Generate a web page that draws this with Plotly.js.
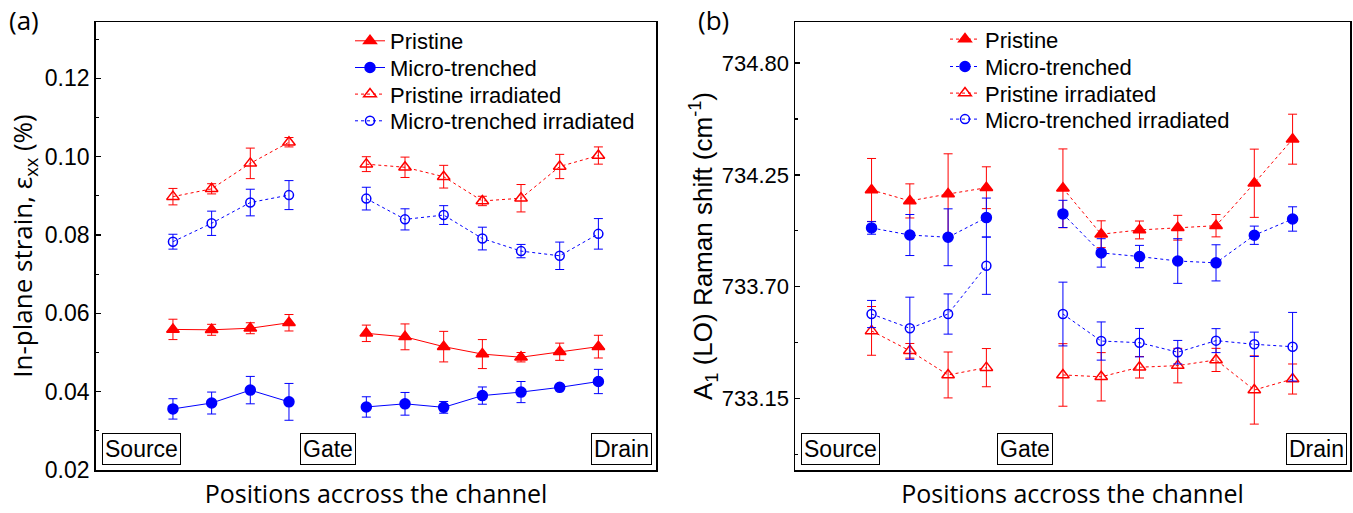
<!DOCTYPE html>
<html>
<head>
<meta charset="utf-8">
<script src="https://cdn.plot.ly/plotly-3.0.1.min.js"></script>
<style>html,body{margin:0;padding:0;background:#fff;}#chart{width:1353px;height:513px;}</style>
</head>
<body>
<div id="chart"></div>
<script>
// Positions across the channel (first 4 on the source side, the rest on the drain side of the gate)
const positions = [1, 2, 3, 4, 6, 7, 8, 9, 10, 11, 12];
const sourceSideCount = 4;

const seriesNames = ["Pristine", "Micro-trenched", "Pristine irradiated", "Micro-trenched irradiated"];

// (a) In-plane strain (%)
const strainPristine = [0.0559, 0.0558, 0.0562, 0.0576, 0.0549, 0.0540, 0.0515, 0.0496, 0.0488, 0.0502, 0.0515];
const strainPristineErr = [0.0026, 0.0014, 0.0014, 0.0021, 0.0021, 0.0033, 0.0039, 0.0037, 0.0012, 0.0022, 0.0029];
const strainTrench = [0.0356, 0.0371, 0.0404, 0.0374, 0.0361, 0.0369, 0.0360, 0.0390, 0.0399, 0.0411, 0.0426];
const strainTrenchErr = [0.0026, 0.0028, 0.0035, 0.0047, 0.0026, 0.0029, 0.0015, 0.0022, 0.0027, 0.0006, 0.0031];
const strainPristineIrr = [0.0898, 0.0918, 0.0983, 0.1037, 0.0981, 0.0973, 0.0949, 0.0887, 0.0894, 0.0975, 0.1003];
const strainPristineIrrErr = [0.0021, 0.0013, 0.0039, 0.0012, 0.0019, 0.0026, 0.0029, 0.0012, 0.0035, 0.0031, 0.0022];
const strainTrenchIrr = [0.0783, 0.0830, 0.0883, 0.0902, 0.0893, 0.0840, 0.0851, 0.0791, 0.0759, 0.0747, 0.0803];
const strainTrenchIrrErr = [0.0019, 0.0031, 0.0034, 0.0037, 0.0029, 0.0027, 0.0024, 0.0029, 0.0017, 0.0035, 0.0039];

// (b) A1(LO) Raman shift (cm-1)
const ramanPristine = [734.176, 734.122, 734.156, 734.187, 734.184, 733.958, 733.979, 733.990, 734.000, 734.209, 734.426];
const ramanPristineErr = [0.155, 0.084, 0.198, 0.103, 0.194, 0.066, 0.044, 0.061, 0.055, 0.168, 0.123];
const ramanTrench = [733.989, 733.954, 733.943, 734.040, 734.058, 733.866, 733.848, 733.826, 733.817, 733.953, 734.033];
const ramanTrenchErr = [0.031, 0.101, 0.140, 0.096, 0.067, 0.070, 0.055, 0.110, 0.089, 0.045, 0.060];
const ramanPristineIrr = [733.482, 733.384, 733.265, 733.301, 733.265, 733.256, 733.303, 733.311, 733.339, 733.191, 733.245];
const ramanPristineIrrErr = [0.120, 0.036, 0.113, 0.094, 0.154, 0.119, 0.053, 0.085, 0.057, 0.168, 0.074];
const ramanTrenchIrr = [733.565, 733.495, 733.565, 733.803, 733.565, 733.432, 733.424, 733.377, 733.434, 733.416, 733.404];
const ramanTrenchIrrErr = [0.067, 0.153, 0.099, 0.141, 0.157, 0.094, 0.070, 0.058, 0.059, 0.060, 0.169];

const regionLabels = ["Source", "Gate", "Drain"];
const panelLabels = ["(a)", "(b)"];
const xTitle = "Positions accross the channel";
const yTitleA = "In-plane strain, ε<sub>xx</sub> (%)";
const yTitleB = "A<sub>1</sub> (LO) Raman shift (cm<sup>-1</sup>)";

const RED = "#ff0000", BLUE = "#0000ff";
const W = 1353, H = 513;
const ARIAL = "Liberation Sans";

const data = [];
function addSeries(name, y, err, color, symbol, dash, xa, ya, legendId, size) {
  [[0, sourceSideCount], [sourceSideCount, positions.length]].forEach(function (r, k) {
    data.push({
      type: "scatter", mode: "lines+markers", name: name,
      x: positions.slice(r[0], r[1]), y: y.slice(r[0], r[1]),
      xaxis: xa, yaxis: ya, legend: legendId, showlegend: k === 0,
      line: {color: color, width: 1, dash: dash},
      marker: {color: color, symbol: symbol, size: size, line: {color: color, width: 1.5}},
      error_y: {type: "data", array: err.slice(r[0], r[1]), visible: true, color: color, thickness: 1, width: 4.5}
    });
  });
}

addSeries(seriesNames[0], strainPristine, strainPristineErr, RED, "triangle-up", "solid", "x", "y", "legend", 11);
addSeries(seriesNames[1], strainTrench, strainTrenchErr, BLUE, "circle", "solid", "x", "y", "legend2", 10);
addSeries(seriesNames[2], strainPristineIrr, strainPristineIrrErr, RED, "triangle-up-open", "dot", "x", "y", "legend3", 11);
addSeries(seriesNames[3], strainTrenchIrr, strainTrenchIrrErr, BLUE, "circle-open", "dot", "x", "y", "legend4", 9);
addSeries(seriesNames[0], ramanPristine, ramanPristineErr, RED, "triangle-up", "dot", "x2", "y2", "legend5", 11);
addSeries(seriesNames[1], ramanTrench, ramanTrenchErr, BLUE, "circle", "dot", "x2", "y2", "legend6", 10);
addSeries(seriesNames[2], ramanPristineIrr, ramanPristineIrrErr, RED, "triangle-up-open", "dot", "x2", "y2", "legend7", 11);
addSeries(seriesNames[3], ramanTrenchIrr, ramanTrenchIrrErr, BLUE, "circle-open", "dot", "x2", "y2", "legend8", 9);

const yDom = [1 - 470 / H, 1 - 22 / H];
const titleFont = {family: "Open Sans", size: 25, color: "#000"};

function xAxis(dom) {
  return {domain: dom, range: [-1, 13.5], showticklabels: false, ticks: "", showgrid: false, zeroline: false,
    showline: true, mirror: true, linecolor: "#000", linewidth: 1.5, automargin: false, fixedrange: true,
    title: {text: xTitle, font: titleFont, standoff: 15}};
}
function yAxis(range, tick0, dtick, minorDtick, fontSize, title, tFont, standoff, anchor) {
  return {domain: yDom, range: range, tick0: tick0, dtick: dtick, tickformat: ".2f",
    ticks: "inside", ticklen: 5, tickwidth: 1.5, tickcolor: "#000",
    minor: {dtick: minorDtick, ticks: "inside", ticklen: 3, tickwidth: 1.2, tickcolor: "#000"},
    showgrid: false, zeroline: false, showline: true, mirror: true, linecolor: "#000", linewidth: 1.5,
    tickfont: {family: ARIAL, size: fontSize, color: "#000"}, automargin: false, anchor: anchor,
    title: {text: title, font: tFont, standoff: standoff}};
}

const layout = {
  width: W, height: H,
  margin: {l: 0, r: 0, t: 0, b: 0},
  paper_bgcolor: "#fff", plot_bgcolor: "#fff",
  showlegend: true,
  xaxis: xAxis([95.6 / W, 656.4 / W]),
  xaxis2: Object.assign(xAxis([795 / W, 1350 / W]), {anchor: "y2"}),
  yaxis: yAxis([0.02, 0.1344], 0.02, 0.02, 0.01, 23, yTitleA, {family: "Open Sans", size: 26, color: "#000"}, 4, "x"),
  yaxis2: yAxis([732.797, 735.003], 733.15, 0.55, 0.275, 22, yTitleB, {family: ARIAL, size: 26, color: "#000"}, 0, "x2"),
  annotations: []
};

// one legend per row so rows can sit as tightly as in the reference
const legendRowsA = [41, 67.7, 94.3, 121];
const legendRowsB = [39.3, 66.7, 93.3, 119.3];
function legendAt(xPx, yPx) {
  return {x: xPx / W, y: 1 - yPx / H, xanchor: "left", yanchor: "middle", bgcolor: "rgba(0,0,0,0)",
    font: {family: ARIAL, size: 22, color: "#000"}, itemwidth: 30, borderwidth: 0};
}
legendRowsA.forEach(function (yy, i) { layout[i === 0 ? "legend" : "legend" + (i + 1)] = legendAt(350, yy); });
legendRowsB.forEach(function (yy, i) { layout["legend" + (i + 5)] = legendAt(945, yy); });

const boxFont = {family: ARIAL, size: 23, color: "#000"};
const boxCenters = [[141.5, 328, 621.7], [840, 1025, 1316]];
boxCenters.forEach(function (row) {
  row.forEach(function (cx, i) {
    layout.annotations.push({xref: "paper", yref: "paper", x: cx / W, y: 1 - 449 / H, xanchor: "center", yanchor: "middle",
      text: regionLabels[i], showarrow: false, font: boxFont, bordercolor: "#000", borderwidth: 1, borderpad: 2, bgcolor: "#fff"});
  });
});
[[7, 20], [696, 20]].forEach(function (p, i) {
  layout.annotations.push({xref: "paper", yref: "paper", x: p[0] / W, y: 1 - p[1] / H, xanchor: "left", yanchor: "middle",
    text: panelLabels[i], showarrow: false, font: {family: "Open Sans", size: 26, color: "#000"}});
});

Plotly.newPlot("chart", data, layout, {displayModeBar: false, staticPlot: true});
</script>
</body>
</html>
